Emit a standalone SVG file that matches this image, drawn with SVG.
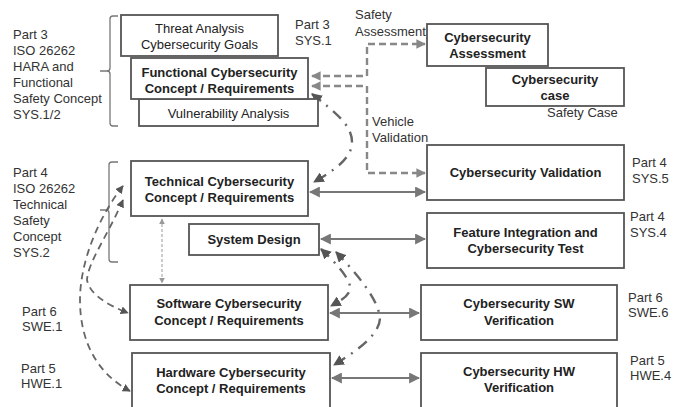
<svg xmlns="http://www.w3.org/2000/svg" width="673" height="407" viewBox="0 0 673 407">
<defs>
<style>
.box{fill:#fff;stroke:#555;stroke-width:1.8}
.t{font-family:"Liberation Sans",Arial,sans-serif;font-size:13px;fill:#222;text-anchor:middle}
.b{font-weight:bold}
.lbl{font-family:"Liberation Sans",Arial,sans-serif;font-size:13px;fill:#333}
.sol{fill:none;stroke:#777;stroke-width:2}
.dash{fill:none;stroke:#888;stroke-width:2.4;stroke-dasharray:7 4}
.ldash{fill:none;stroke:#666;stroke-width:1.8;stroke-dasharray:7 5}
.dd{fill:none;stroke:#666;stroke-width:2.4;stroke-dasharray:11 7 2 7}
.dot{fill:none;stroke:#999;stroke-width:1;stroke-dasharray:3 2}
.brace{fill:none;stroke:#777;stroke-width:1.3}
</style>
<marker id="ah" viewBox="0 0 10 10" refX="9" refY="5" markerWidth="5.5" markerHeight="5.5" orient="auto-start-reverse" markerUnits="strokeWidth"><path d="M0,0 L10,5 L0,10 z" fill="#777"/></marker>
<marker id="ahd" viewBox="0 0 10 10" refX="9" refY="5" markerWidth="4" markerHeight="4" orient="auto-start-reverse" markerUnits="strokeWidth"><path d="M0,0 L10,5 L0,10 z" fill="#888"/></marker>
<marker id="ahk" viewBox="0 0 10 10" refX="9" refY="5" markerWidth="4.5" markerHeight="4.5" orient="auto-start-reverse" markerUnits="strokeWidth"><path d="M0,0 L10,5 L0,10 z" fill="#555"/></marker>
<marker id="ahs" viewBox="0 0 10 10" refX="9" refY="5" markerWidth="6" markerHeight="6" orient="auto-start-reverse" markerUnits="strokeWidth"><path d="M0,0 L10,5 L0,10 z" fill="#999"/></marker>
</defs>
<rect width="673" height="407" fill="#fff"/>

<g id="labels">
<text class="lbl" x="13" y="39">Part 3</text>
<text class="lbl" x="13" y="55">ISO 26262</text>
<text class="lbl" x="13" y="71">HARA and</text>
<text class="lbl" x="13" y="87">Functional</text>
<text class="lbl" x="13" y="103">Safety Concept</text>
<text class="lbl" x="13" y="119">SYS.1/2</text>
<text class="lbl" x="295" y="29">Part 3</text>
<text class="lbl" x="295" y="45">SYS.1</text>
<text class="lbl" x="355" y="19">Safety</text>
<text class="lbl" x="355" y="36">Assessment</text>
<text class="lbl" x="547" y="117">Safety Case</text>
<text class="lbl" x="372" y="126">Vehicle</text>
<text class="lbl" x="372" y="142">Validation</text>
<text class="lbl" x="13" y="177">Part 4</text>
<text class="lbl" x="13" y="193">ISO 26262</text>
<text class="lbl" x="13" y="209">Technical</text>
<text class="lbl" x="13" y="225">Safety</text>
<text class="lbl" x="13" y="241">Concept</text>
<text class="lbl" x="13" y="257">SYS.2</text>
<text class="lbl" x="632" y="167">Part 4</text>
<text class="lbl" x="632" y="183">SYS.5</text>
<text class="lbl" x="630" y="221">Part 4</text>
<text class="lbl" x="630" y="237">SYS.4</text>
<text class="lbl" x="22" y="316">Part 6</text>
<text class="lbl" x="22" y="331">SWE.1</text>
<text class="lbl" x="21" y="373">Part 5</text>
<text class="lbl" x="21" y="388">HWE.1</text>
<text class="lbl" x="628" y="302">Part 6</text>
<text class="lbl" x="628" y="317">SWE.6</text>
<text class="lbl" x="630" y="365">Part 5</text>
<text class="lbl" x="630" y="380">HWE.4</text>
</g>

<g id="braces">
<path class="brace" d="M118,16 L113,16 Q110,16 110,19 L110,68 Q110,71 107,71 L100,71 M107,71 Q110,71 110,74 L110,123 Q110,126 113,126 L118,126"/>
<path class="brace" d="M118,162 L112,162 Q109,162 109,165 L109,207 Q109,210 106,210 L100,210 M106,210 Q109,210 109,213 L109,259 Q109,262 112,262 L118,262"/>
</g>

<g id="connectors">
<path class="dash" d="M312,76 L367,76 L367,44 L425,44" marker-start="url(#ahd)" marker-end="url(#ahd)"/>
<path class="dash" d="M312,86 L367,86 L367,173 L425,173" marker-start="url(#ahd)" marker-end="url(#ahd)"/>
<path class="sol" d="M310,192 L425,192" marker-start="url(#ah)" marker-end="url(#ah)"/>
<path class="sol" d="M321,239 L425,239" marker-start="url(#ah)" marker-end="url(#ah)"/>
<path class="sol" d="M330,313 L419,313" marker-start="url(#ah)" marker-end="url(#ah)"/>
<path class="sol" d="M332,378 L419,378" marker-start="url(#ah)" marker-end="url(#ah)"/>
<path class="dd" d="M312,94 C335,112 352,125 352,142 C352,158 335,170 314,182" marker-start="url(#ahk)" marker-end="url(#ahk)"/>
<path class="dd" d="M321,249 C335,262 352,280 350,290 C347,298 338,302 331,306" marker-start="url(#ahk)" marker-end="url(#ahk)"/>
<path class="dd" d="M336,252 C355,272 378,298 380,318 C380,335 355,352 334,365" marker-start="url(#ahk)" marker-end="url(#ahk)"/>
<path class="ldash" d="M123,186 C100,215 80,260 80,300 C80,345 100,375 130,391" marker-start="url(#ahk)" marker-end="url(#ahk)"/>
<path class="ldash" d="M123,200 C108,235 88,262 87,280 C90,295 108,305 128,313" marker-start="url(#ahk)" marker-end="url(#ahk)"/>
<path class="dot" d="M162,219 L162,283" marker-start="url(#ahs)" marker-end="url(#ahs)"/>
</g>

<g id="threat"><rect class="box" x="121" y="15" width="157" height="41"/><text class="t" x="199.5" y="33">Threat Analysis</text><text class="t" x="199.5" y="49">Cybersecurity Goals</text></g>
<g id="vulnerability"><rect class="box" x="139" y="99" width="179" height="27"/><text class="t" x="228.5" y="117.5">Vulnerability Analysis</text></g>
<g id="functional"><rect class="box" x="131" y="58" width="177" height="41"/><text class="t b" x="219.5" y="76.5">Functional Cybersecurity</text><text class="t b" x="219.5" y="92.5">Concept / Requirements</text></g>
<g id="assessment"><rect class="box" x="427" y="24" width="121" height="42"/><text class="t b" x="487.5" y="42">Cybersecurity</text><text class="t b" x="487.5" y="58">Assessment</text></g>
<g id="case"><rect class="box" x="486" y="68" width="138" height="38"/><text class="t b" x="555" y="84">Cybersecurity</text><text class="t b" x="555" y="100">case</text></g>
<g id="technical"><rect class="box" x="131" y="161" width="177" height="55"/><text class="t b" x="219.5" y="186">Technical Cybersecurity</text><text class="t b" x="219.5" y="202">Concept / Requirements</text></g>
<g id="validation"><rect class="box" x="427" y="145" width="197" height="55"/><text class="t b" x="525.5" y="177">Cybersecurity Validation</text></g>
<g id="systemdesign"><rect class="box" x="189" y="224" width="130" height="31"/><text class="t b" x="254" y="244">System Design</text></g>
<g id="feature"><rect class="box" x="427" y="213" width="197" height="55"/><text class="t b" x="525.5" y="237">Feature Integration and</text><text class="t b" x="525.5" y="253">Cybersecurity Test</text></g>
<g id="software"><rect class="box" x="130" y="285" width="198" height="55"/><text class="t b" x="229" y="308">Software Cybersecurity</text><text class="t b" x="229" y="325">Concept / Requirements</text></g>
<g id="swverif"><rect class="box" x="421" y="285" width="196" height="55"/><text class="t b" x="519" y="308">Cybersecurity SW</text><text class="t b" x="519" y="325">Verification</text></g>
<g id="hardware"><rect class="box" x="132" y="353" width="198" height="56"/><text class="t b" x="231" y="377">Hardware Cybersecurity</text><text class="t b" x="231" y="393">Concept / Requirements</text></g>
<g id="hwverif"><rect class="box" x="421" y="353" width="196" height="56"/><text class="t b" x="519" y="376">Cybersecurity HW</text><text class="t b" x="519" y="392">Verification</text></g>
</svg>
